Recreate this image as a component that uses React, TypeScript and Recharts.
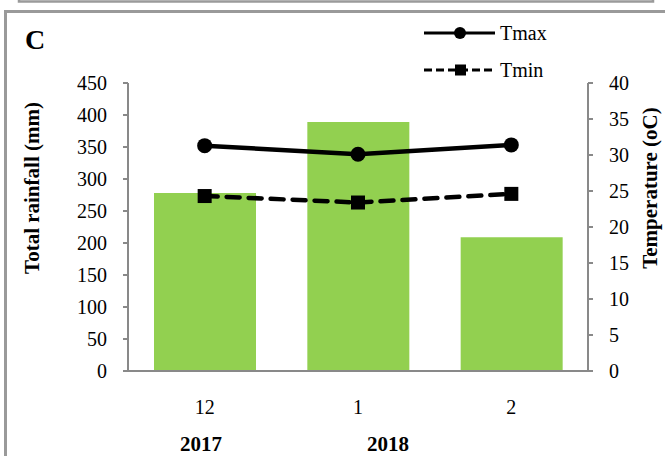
import React from 'react';
import { ComposedChart, Bar, Line, XAxis, YAxis, Legend, Customized } from 'recharts';

// monthly totals, Dec 2017 – Feb 2018
const months = ['12', '1', '2'];
const rainfall = [278, 389, 209];
const tmax = [31.3, 30.1, 31.4];
const tmin = [24.3, 23.4, 24.6];

const rainTicks = [0, 50, 100, 150, 200, 250, 300, 350, 400, 450];
const tempTicks = [0, 5, 10, 15, 20, 25, 30, 35, 40];

const data = months.map((m, i) => ({ month: m, rain: rainfall[i], tmax: tmax[i], tmin: tmin[i] }));

const FONT = 'Liberation Serif';
const AXIS = '#898989';
const tickStyle = { fill: '#000', fontSize: 20, fontFamily: FONT, style: { fontFamily: FONT } };

const serif = { fontFamily: FONT };
const serifBold = { fontFamily: FONT, fontWeight: 700 };

const CircleDot = (props: any) => {
  const { cx, cy, index } = props;
  return <circle key={`c-${index}`} cx={cx} cy={cy} r={7.5} fill="#000" />;
};

const SquareDot = (props: any) => {
  const { cx, cy, index } = props;
  return <rect key={`s-${index}`} x={cx - 7} y={cy - 7} width={14} height={14} fill="#000" />;
};

function LegendContent({ payload }: any) {
  const items = (payload ?? []).filter((p: any) => p.dataKey === 'tmax' || p.dataKey === 'tmin');
  return (
    <svg width={150} height={80} style={{ display: 'block' }}>
      {items.map((p: any, i: number) => {
        const y = 19 + i * 37;
        const dashed = p.dataKey === 'tmin';
        return (
          <g key={p.dataKey}>
            <line
              x1={0}
              x2={71}
              y1={y}
              y2={y}
              stroke="#000"
              strokeWidth={3}
              strokeDasharray={dashed ? '8 4' : undefined}
            />
            {dashed ? (
              <rect x={31} y={y - 5.5} width={11} height={11} fill="#000" />
            ) : (
              <circle cx={36} cy={y} r={6} fill="#000" />
            )}
            <text x={76} y={y} dominantBaseline="central" style={serif} fontSize={20} fill="#000">
              {p.value}
            </text>
          </g>
        );
      })}
    </svg>
  );
}

// panel frame, panel letter, axis titles and year captions
const Annotations = () => (
  <g>
    <polyline points="19,-2 19,1.5 653,1.5 653,-2" fill="none" stroke="#9a9a9a" strokeWidth={2.5} />
    <polyline points="5.5,456 5.5,11.5 665,11.5" fill="none" stroke="#9a9a9a" strokeWidth={3} />
    <text x={25} y={49} style={serifBold} fontSize={28} fill="#000">
      C
    </text>
    <text
      x={32}
      y={188}
      transform="rotate(-90, 32, 188)"
      textAnchor="middle"
      dominantBaseline="central"
      style={serifBold}
      fontSize={21}
      fill="#000"
    >
      Total rainfall (mm)
    </text>
    <text
      x={650}
      y={188}
      transform="rotate(-90, 650, 188)"
      textAnchor="middle"
      dominantBaseline="central"
      style={serifBold}
      fontSize={21}
      fill="#000"
    >
      Temperature (oC)
    </text>
    <text x={201} y={451} textAnchor="middle" style={serifBold} fontSize={21} fill="#000">
      2017
    </text>
    <text x={388} y={451} textAnchor="middle" style={serifBold} fontSize={21} fill="#000">
      2018
    </text>
  </g>
);

export default function App() {
  return (
    <div
      style={{
        position: 'absolute',
        left: 0,
        top: 0,
        width: 665,
        height: 456,
        background: '#fff',
        fontFamily: FONT,
      }}
    >
      <ComposedChart
        width={665}
        height={456}
        data={data}
        margin={{ top: 83, right: 0, bottom: 0, left: 0 }}
        style={{ fontFamily: FONT }}
      >
        <XAxis
          dataKey="month"
          height={85}
          tickLine={false}
          tickSize={0}
          tickMargin={29}
          axisLine={{ stroke: AXIS, strokeWidth: 2 }}
          tick={tickStyle}
        />
        <YAxis
          yAxisId="rain"
          width={128}
          domain={[0, 450]}
          ticks={rainTicks}
          interval={0}
          tickSize={5}
          tickMargin={16}
          axisLine={{ stroke: AXIS, strokeWidth: 2 }}
          tickLine={{ stroke: AXIS, strokeWidth: 2 }}
          tick={tickStyle}
        />
        <YAxis
          yAxisId="temp"
          orientation="right"
          width={77}
          domain={[0, 40]}
          ticks={tempTicks}
          interval={0}
          tickSize={5}
          tickMargin={16}
          axisLine={{ stroke: AXIS, strokeWidth: 2 }}
          tickLine={{ stroke: AXIS, strokeWidth: 2 }}
          tick={{ ...tickStyle, textAnchor: 'start' }}
        />
        <Bar yAxisId="rain" dataKey="rain" name="Rainfall" fill="#92D050" barSize={102} isAnimationActive={false} />
        <Line
          yAxisId="temp"
          dataKey="tmax"
          name="Tmax"
          type="linear"
          stroke="#000"
          strokeWidth={4.5}
          dot={CircleDot}
          activeDot={false}
          isAnimationActive={false}
        />
        <Line
          yAxisId="temp"
          dataKey="tmin"
          name="Tmin"
          type="linear"
          stroke="#000"
          strokeWidth={4.5}
          strokeDasharray="13 9"
          strokeLinecap="round"
          dot={SquareDot}
          activeDot={false}
          isAnimationActive={false}
        />
        <Legend
          layout="vertical"
          align="center"
          verticalAlign="middle"
          content={LegendContent}
          wrapperStyle={{ left: 424, top: 14, width: 150, height: 80 }}
        />
        <Customized component={Annotations} />
      </ComposedChart>
    </div>
  );
}
